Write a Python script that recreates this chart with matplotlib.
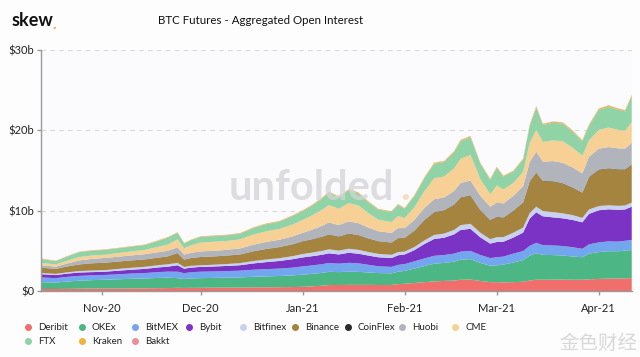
import matplotlib
matplotlib.use("Agg")
import matplotlib.pyplot as plt
from matplotlib.lines import Line2D
import pandas as pd

plt.rcParams['font.family'] = ['Lato', 'DejaVu Sans']

dates = pd.to_datetime([
    "2020-10-13", "2020-10-18", "2020-10-21", "2020-10-25", "2020-10-29",
    "2020-11-02", "2020-11-06", "2020-11-10", "2020-11-14", "2020-11-18",
    "2020-11-21", "2020-11-24", "2020-11-26", "2020-11-28", "2020-12-01",
    "2020-12-05", "2020-12-09", "2020-12-13", "2020-12-17", "2020-12-21",
    "2020-12-25", "2020-12-29", "2021-01-01", "2021-01-04", "2021-01-07",
    "2021-01-09", "2021-01-12", "2021-01-15", "2021-01-18", "2021-01-21",
    "2021-01-24", "2021-01-28", "2021-01-30", "2021-02-01", "2021-02-04",
    "2021-02-07", "2021-02-10", "2021-02-13", "2021-02-16", "2021-02-18",
    "2021-02-21", "2021-02-24", "2021-02-27", "2021-03-01", "2021-03-03",
    "2021-03-06", "2021-03-09", "2021-03-11", "2021-03-13", "2021-03-15",
    "2021-03-18", "2021-03-21", "2021-03-24", "2021-03-27", "2021-03-29",
    "2021-04-01", "2021-04-04", "2021-04-07", "2021-04-09", "2021-04-11",
])

# Open interest, $ billions
deribit = [.25, .25, .26, .28, .30, .30, .31, .32, .33, .35,
           .36, .40, .38, .39, .40, .41, .42, .43, .45, .46,
           .47, .49, .52, .58, .66, .74, .75, .76, .76, .76,
           .75, .75, .85, .90, 1.00, 1.10, 1.20, 1.25, 1.30, 1.40,
           1.42, 1.25, 1.10, 1.10, 1.08, 1.10, 1.15, 1.30, 1.40, 1.40,
           1.42, 1.42, 1.40, 1.40, 1.45, 1.50, 1.55, 1.55, 1.58, 1.60]
okex = [.85, .80, .90, 1.00, 1.05, 1.10, 1.15, 1.20, 1.22, 1.28,
        1.30, 1.20, 1.12, 1.18, 1.20, 1.22, 1.24, 1.26, 1.32, 1.36,
        1.40, 1.45, 1.52, 1.56, 1.60, 1.65, 1.60, 1.65, 1.62, 1.55,
        1.48, 1.45, 1.55, 1.60, 1.80, 2.00, 2.20, 2.25, 2.35, 2.50,
        2.55, 2.25, 2.05, 2.10, 2.20, 2.45, 2.70, 3.10, 3.30, 3.10,
        3.05, 3.00, 2.90, 2.80, 3.20, 3.35, 3.40, 3.40, 3.45, 3.50]
bitmex = [.60, .55, .58, .60, .60, .60, .62, .65, .68, .72,
          .75, .80, .72, .76, .80, .80, .82, .84, .88, .90,
          .92, .97, 1.02, 1.05, 1.08, 1.10, 1.05, 1.10, 1.06, .95,
          .85, .80, .85, .85, .90, .95, .98, .98, 1.00, 1.00,
          1.02, .98, .95, 1.00, 1.00, 1.10, 1.12, 1.22, 1.30, 1.20,
          1.20, 1.18, 1.15, 1.05, 1.15, 1.20, 1.22, 1.20, 1.22, 1.25]
bybit = [.40, .38, .40, .42, .40, .40, .45, .48, .52, .58,
         .62, .80, .55, .58, .60, .62, .64, .68, .78, .88,
         .95, 1.05, 1.12, 1.15, 1.18, 1.20, 1.15, 1.25, 1.20, 1.15,
         1.12, 1.10, 1.20, 1.20, 1.40, 1.80, 2.10, 2.15, 2.40, 2.70,
         2.75, 2.20, 1.80, 1.90, 1.85, 2.00, 2.30, 3.40, 3.80, 3.60,
         3.50, 3.45, 3.40, 3.30, 3.80, 4.00, 4.00, 3.95, 3.90, 4.15]
bitfinex = [.15, .15, .16, .18, .20, .20, .22, .24, .26, .28,
            .30, .30, .22, .22, .20, .22, .24, .26, .30, .32,
            .35, .38, .42, .45, .48, .50, .48, .50, .48, .44,
            .42, .40, .40, .35, .38, .45, .50, .52, .55, .60,
            .62, .58, .55, .60, .58, .60, .62, .68, .70, .65,
            .65, .62, .60, .55, .55, .52, .50, .50, .50, .50]
binance = [.65, .60, .70, .80, .88, .90, .90, .90, .90, .90,
           .95, 1.20, .90, .95, 1.00, 1.00, 1.02, 1.05, 1.18, 1.28,
           1.35, 1.45, 1.55, 1.62, 1.72, 1.80, 1.72, 1.85, 1.80, 1.65,
           1.55, 1.50, 1.70, 1.70, 2.00, 2.50, 2.80, 2.85, 3.10, 3.40,
           3.50, 2.80, 2.35, 2.50, 2.40, 2.70, 3.10, 3.90, 4.20, 3.70,
           3.80, 3.70, 3.40, 3.10, 4.00, 4.50, 4.55, 4.50, 4.45, 4.70]
coinflex = [.02, .02, .02, .02, .02, .02, .02, .02, .02, .03,
            .03, .03, .02, .02, .03, .03, .03, .03, .03, .03,
            .03, .03, .04, .04, .04, .04, .04, .04, .04, .04,
            .03, .03, .03, .03, .04, .04, .05, .05, .05, .05,
            .05, .04, .04, .04, .04, .04, .04, .05, .05, .05,
            .05, .05, .05, .04, .05, .05, .05, .05, .05, .05]
huobi = [.30, .28, .35, .50, .55, .60, .60, .62, .65, .68,
         .70, .70, .62, .65, .70, .70, .72, .75, .82, .88,
         .92, .98, 1.05, 1.20, 1.38, 1.50, 1.42, 1.52, 1.48, 1.35,
         1.25, 1.20, 1.25, 1.20, 1.35, 1.50, 1.60, 1.60, 1.70, 1.80,
         1.85, 1.75, 1.65, 1.80, 1.75, 1.85, 2.00, 2.40, 2.60, 2.40,
         2.50, 2.55, 2.50, 2.40, 2.50, 2.60, 2.65, 2.60, 2.60, 2.70]
cme = [.30, .29, .35, .42, .42, .40, .45, .49, .54, .66,
       .77, 1.00, .79, .92, 1.10, 1.13, 1.10, 1.13, 1.27, 1.32,
       1.34, 1.48, 1.60, 1.79, 2.00, 2.16, 2.03, 2.27, 2.20, 1.80,
       1.43, 1.35, 1.50, 1.25, 1.57, 2.10, 2.62, 2.60, 2.80, 3.00,
       3.19, 2.09, 1.55, 2.10, 1.74, 1.60, 1.81, 2.40, 2.70, 2.45,
       2.58, 2.68, 2.45, 2.20, 2.05, 2.33, 2.43, 2.30, 2.20, 2.55]
ftx = [.50, .40, .50, .60, .60, .60, .60, .60, .60, .75,
       .85, .80, .60, .65, .70, .70, .70, .70, .80, .90,
       .90, 1.05, 1.10, 1.20, 1.40, 1.55, 1.40, 1.60, 1.50, 1.35,
       1.25, 1.25, 1.40, 1.15, 1.40, 1.60, 1.80, 1.80, 2.00, 2.20,
       2.20, 1.90, 1.80, 2.20, 1.60, 1.40, 1.50, 2.10, 2.80, 2.10,
       2.20, 2.20, 2.00, 1.80, 1.80, 2.50, 2.60, 2.50, 2.40, 3.25]
kraken = [.04, .04, .04, .05, .05, .05, .05, .05, .05, .06,
          .06, .06, .05, .05, .06, .06, .06, .06, .07, .07,
          .07, .08, .08, .09, .09, .10, .09, .10, .10, .09,
          .08, .08, .08, .08, .09, .10, .11, .11, .12, .12,
          .12, .10, .09, .10, .09, .10, .11, .12, .13, .12,
          .12, .12, .12, .11, .12, .13, .13, .13, .13, .14]
bakkt = [.01, .01, .01, .01, .01, .01, .01, .01, .01, .01,
         .02, .02, .01, .01, .02, .02, .02, .02, .02, .02,
         .02, .02, .02, .03, .03, .03, .03, .03, .03, .03,
         .02, .02, .02, .02, .03, .03, .03, .03, .03, .04,
         .04, .03, .03, .03, .03, .03, .03, .04, .04, .04,
         .04, .04, .04, .03, .04, .04, .04, .04, .04, .04]

exchanges = ["Deribit", "OKEx", "BitMEX", "Bybit", "Bitfinex", "Binance",
             "CoinFlex", "Huobi", "CME", "FTX", "Kraken", "Bakkt"]
colors = ["#f06e6b", "#4cb784", "#72a6ee", "#7b33c6", "#c9d1f2", "#a5843f",
          "#2a2a2a", "#b1b4bb", "#f6d095", "#8fd3a7", "#f0b23a", "#ec8f96"]
series = [deribit, okex, bitmex, bybit, bitfinex, binance,
          coinflex, huobi, cme, ftx, kraken, bakkt]

yticks = [0, 10, 20, 30]
ytick_labels = ["$0", "$10b", "$20b", "$30b"]
xtick_dates = pd.to_datetime(["2020-11-01", "2020-12-01", "2021-01-01",
                              "2021-02-01", "2021-03-01", "2021-04-01"])
xtick_labels = ["Nov-20", "Dec-20", "Jan-21", "Feb-21", "Mar-21", "Apr-21"]

W, H = 640, 357
fig = plt.figure(figsize=(6.4, 3.57), dpi=100, facecolor="#fdfdfd")
ax = fig.add_axes([41 / W, 1 - 291 / H, (632 - 41) / W, (291 - 50) / H])
ax.set_facecolor("#fbfbfd")

ax.stackplot(dates, *series, colors=colors, linewidth=0, antialiased=True)

ax.set_ylim(0, 30)
ax.set_xlim(pd.Timestamp("2020-10-13 12:00"), pd.Timestamp("2021-04-11 02:00"))
ax.set_yticks(yticks)
ax.set_yticklabels(ytick_labels)
ax.set_xticks(xtick_dates)
ax.set_xticklabels(xtick_labels)
for y in yticks[1:]:
    ax.axhline(y, color="#d8d8dc", lw=0.8, ls=(0, (4, 4)), zorder=0)

for s in ["top", "right"]:
    ax.spines[s].set_visible(False)
for s in ["left", "bottom"]:
    ax.spines[s].set_color("#9a9a9a")
    ax.spines[s].set_linewidth(1.0)
ax.tick_params(axis="both", colors="#9a9a9a", labelcolor="#222222",
               labelsize=8, length=3, width=1)
ax.tick_params(axis="x", pad=6)
ax.tick_params(axis="y", pad=2)

# watermark
fig.text(311 / W, 1 - 188 / H, "unfolded", fontsize=30, fontweight="bold",
         color="#d4d4d8", alpha=0.75, ha="center", va="center", zorder=10)
fig.text(405 / W, 1 - 200 / H, ".", fontsize=30, fontweight="bold",
         color="#f3d3b0", alpha=0.7, ha="center", va="baseline", zorder=10)

# header
fig.text(12 / W, 1 - 20 / H, "skew", fontsize=13, fontweight="bold",
         color="#111111", ha="left", va="center")
fig.text(52.5 / W, 1 - 25 / H, ".", fontsize=11, fontweight="bold",
         color="#f2a93b", ha="left", va="center")
fig.text(261 / W, 1 - 21 / H, "BTC Futures - Aggregated Open Interest",
         fontsize=8.3, color="#111111", ha="center", va="center")

# legend
row1 = [(28, 0), (82, 1), (135, 2), (189, 3), (243, 4), (295, 5), (348, 6),
        (402, 7), (455, 8)]
row2 = [(28, 9), (82, 10), (135, 11)]
for yy, row in [(327, row1), (341, row2)]:
    for xx, i in row:
        fig.add_artist(Line2D([xx / W], [1 - yy / H], marker="o", markersize=4,
                              color=colors[i], transform=fig.transFigure, lw=0))
        fig.text((xx + 10) / W, 1 - yy / H, exchanges[i], fontsize=7,
                 color="#222222", ha="left", va="center")

fig.text(598 / W, 1 - 343 / H, "金色财经", fontsize=14,
         family=["Noto Sans CJK SC", "DejaVu Sans"], color="#cfcfcf",
         alpha=0.8, ha="center", va="center")

fig.savefig("out.png", dpi=100, facecolor=fig.get_facecolor())
